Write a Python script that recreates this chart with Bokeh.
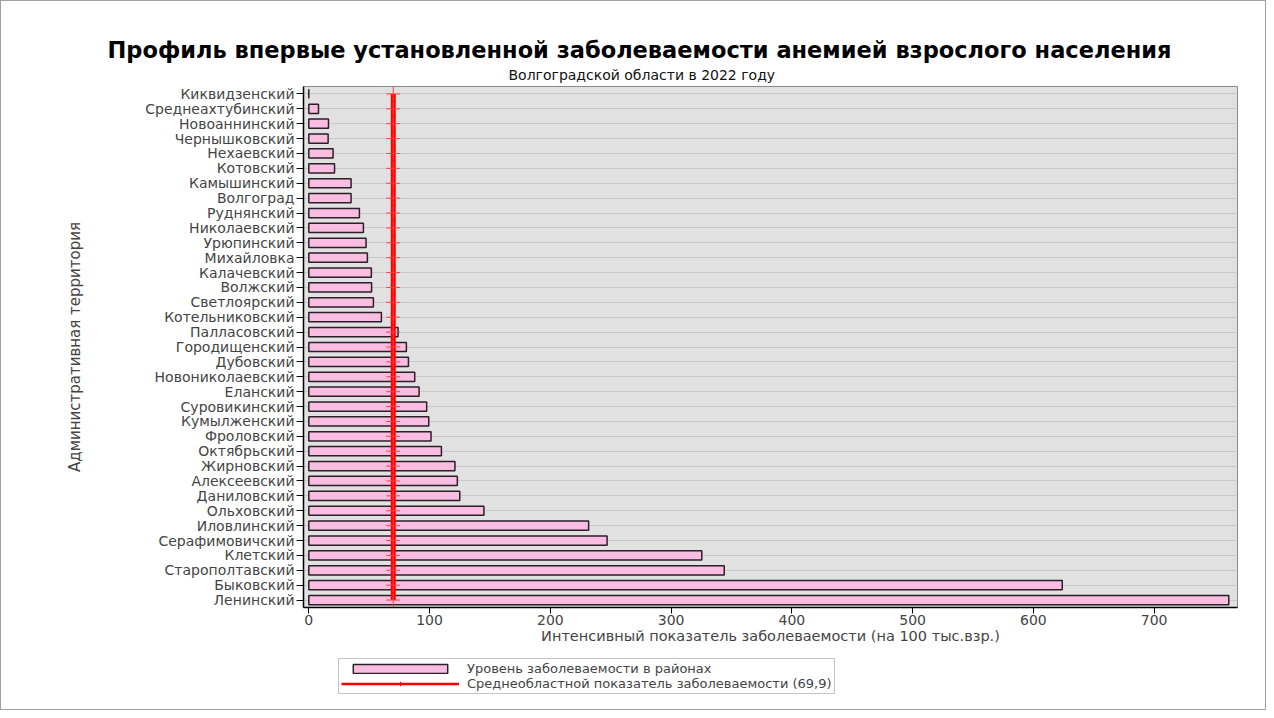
from bokeh.plotting import figure
from bokeh.models import (ColumnDataSource, FactorRange, Range1d, Title, Legend, LegendItem)
from bokeh.layouts import column
from bokeh.embed import file_html
from bokeh.resources import INLINE

# ---- data (top to bottom as in the picture) ----
districts = ["Киквидзенский", "Среднеахтубинский", "Новоаннинский", "Чернышковский",
             "Нехаевский", "Котовский", "Камышинский", "Волгоград", "Руднянский",
             "Николаевский", "Урюпинский", "Михайловка", "Калачевский", "Волжский",
             "Светлоярский", "Котельниковский", "Палласовский", "Городищенский",
             "Дубовский", "Новониколаевский", "Еланский", "Суровикинский", "Кумылженский",
             "Фроловский", "Октябрьский", "Жирновский", "Алексеевский", "Даниловский",
             "Ольховский", "Иловлинский", "Серафимовичский", "Клетский",
             "Старополтавский", "Быковский", "Ленинский"]
rates = [0.0, 8.0, 16.3, 16.0, 20.1, 21.3, 35.0, 35.0, 41.9, 45.2, 47.4, 48.5, 51.8, 52.0,
         53.5, 60.1, 73.9, 80.8, 82.5, 87.7, 91.3, 97.6, 99.3, 101.2, 109.8, 121.0, 123.0,
         125.0, 145.0, 231.7, 247.0, 325.4, 344.0, 623.9, 761.8]
regional_mean = 69.9
x_ticks = [0, 100, 200, 300, 400, 500, 600, 700]

title_text = "Профиль впервые установленной заболеваемости анемией взрослого населения"
subtitle_text = "Волгоградской области в 2022 году"
x_label = "Интенсивный показатель заболеваемости (на 100 тыс.взр.)"
y_label = "Административная территория"
legend_bar = "Уровень заболеваемости в районах"
legend_line = "Среднеобластной показатель заболеваемости (69,9)"

FONT = "DejaVu Sans"
BAR_FILL = "#f8bde0"
BAR_LINE = "#2b1f28"
MEAN_COLOR = "#ff0000"
MARK_COLOR = "#ff4040"

src = ColumnDataSource(dict(district=districts, rate=rates,
                            mean=[regional_mean] * len(districts)))

p = figure(width=1264, height=650, output_backend="svg", toolbar_location=None,
           y_range=FactorRange(factors=list(reversed(districts)), range_padding=0),
           x_range=Range1d(-4.4, 769), title=None)

p.min_border_left = 302
p.min_border_right = 28
p.min_border_top = 85
p.min_border_bottom = 44

p.background_fill_color = "#e1e1e1"
p.border_fill_color = "white"
p.outline_line_color = "#8a8a8a"
p.outline_line_width = 1

p.hbar(y="district", right="rate", left=0, height=0.62, source=src,
       fill_color=BAR_FILL, line_color=BAR_LINE, line_width=1.5)
p.line(x="mean", y="district", source=src, line_color=MEAN_COLOR, line_width=5)
p.scatter(x="mean", y="district", source=src, marker="cross", size=14,
          line_color=MARK_COLOR, line_width=1)

# titles
p.add_layout(Title(text=subtitle_text, align="left", offset=205, text_font=FONT,
                   text_font_size="14px", text_font_style="normal", text_color="#111111",
                   vertical_align="middle", standoff=6), "above")
p.add_layout(Title(text=title_text, align="left", offset=-196, text_font=FONT,
                   text_font_size="22.5px", text_font_style="bold", text_color="#000000",
                   standoff=0), "above")

# axes
p.xaxis.ticker = x_ticks
p.xaxis.axis_label = x_label
p.xaxis.axis_label_text_font = FONT
p.xaxis.axis_label_text_font_size = "14.5px"
p.xaxis.axis_label_text_font_style = "normal"
p.xaxis.axis_label_standoff = 0
p.xaxis.major_label_text_font = FONT
p.xaxis.major_label_text_font_size = "14px"
p.xaxis.major_label_standoff = 1
p.xaxis.minor_tick_line_color = None
p.xaxis.major_tick_in = 0
p.xaxis.major_tick_out = 6
p.xaxis.axis_line_color = "black"
p.xaxis.axis_line_width = 1.5

p.yaxis.axis_label = y_label
p.yaxis.axis_label_text_font = FONT
p.yaxis.axis_label_text_font_size = "15px"
p.yaxis.axis_label_text_font_style = "normal"
p.yaxis.axis_label_standoff = 58
p.yaxis.major_label_text_font = FONT
p.yaxis.major_label_text_font_size = "14px"
p.yaxis.major_label_standoff = 2
p.yaxis.major_tick_in = 0
p.yaxis.major_tick_out = 7
p.yaxis.axis_line_color = "black"
p.yaxis.axis_line_width = 1.5

p.xgrid.grid_line_color = None
p.ygrid.grid_line_color = "#c9c9c9"
p.ygrid.grid_line_width = 1

# ---- legend strip (separate small figure; its glyph renderers hold no visible data) ----
q = figure(width=1264, height=58, output_backend="svg", toolbar_location=None,
           x_range=Range1d(0, 1), y_range=Range1d(0, 1), x_axis_type=None,
           y_axis_type=None, title=None, min_border=0)
q.outline_line_color = None
q.grid.grid_line_color = None
q.background_fill_color = "white"
q.border_fill_color = "white"
nan = float("nan")
hidden = ColumnDataSource(dict(x=[nan], y=[nan]))
lb = q.hbar(y="y", right="x", height=0.5, source=hidden,
            fill_color=BAR_FILL, line_color=BAR_LINE, line_width=1.5)
ll = q.line(x="x", y="y", source=hidden, line_color=MEAN_COLOR, line_width=2.5)
lm = q.scatter(x="x", y="y", source=hidden, marker="cross", size=9,
               line_color=MEAN_COLOR, line_width=1)

legend = Legend(items=[LegendItem(label=legend_bar, renderers=[lb]),
                       LegendItem(label=legend_line, renderers=[ll, lm])],
                location=(35, 15), orientation="vertical",
                glyph_width=118, glyph_height=11, label_height=11,
                label_text_font=FONT, label_text_font_size="13px",
                label_standoff=8, spacing=0, padding=2, margin=0,
                border_line_color="#8a8a8a", background_fill_color="white",
                background_fill_alpha=1)
q.add_layout(legend, "center")

layout = column(p, q, spacing=0)
layout.styles = {"border": "1px solid #a0a0a0"}

open("out.html", "w").write(file_html(layout, INLINE))
